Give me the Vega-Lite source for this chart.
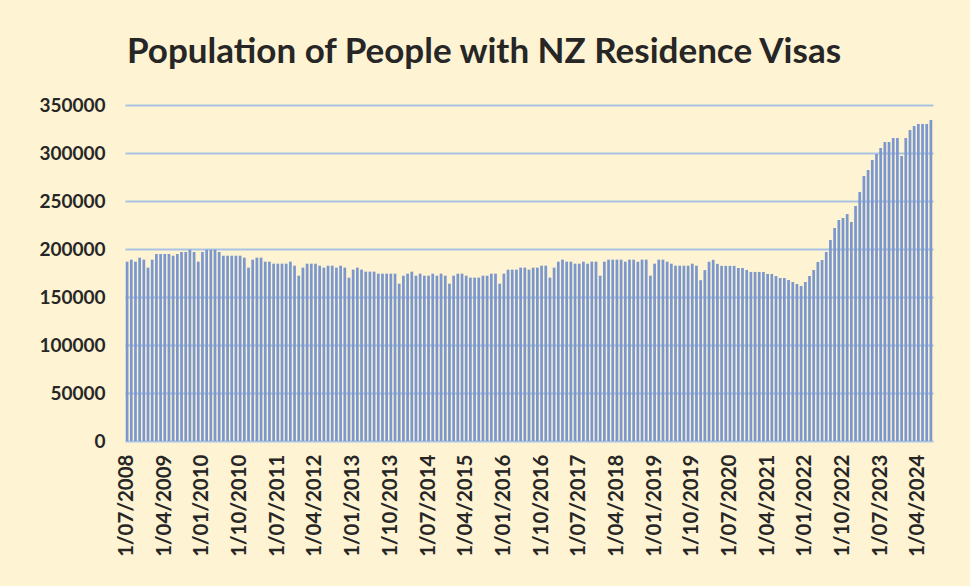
{
  "$schema": "https://vega.github.io/schema/vega-lite/v6.json",
  "width": 808,
  "height": 336,
  "autosize": {"type": "none"},
  "padding": {"left": 125, "top": 105, "right": 37, "bottom": 145},
  "background": "#FEF3D2",
  "title": {
    "text": "Population of People with NZ Residence Visas",
    "font": "Lato",
    "fontSize": 35,
    "fontWeight": "bold",
    "color": "#262626",
    "anchor": "middle",
    "offset": 26,
    "dx": -45
  },
  "data": {
    "values": [
      {"d":"1/07/2008","v":186800},{"d":"1/08/2008","v":188900},{"d":"1/09/2008","v":186800},{"d":"1/10/2008","v":191000},{"d":"1/11/2008","v":188900},{"d":"1/12/2008","v":180600},
      {"d":"1/01/2009","v":188900},{"d":"1/02/2009","v":194800},{"d":"1/03/2009","v":194800},{"d":"1/04/2009","v":194800},{"d":"1/05/2009","v":194800},{"d":"1/06/2009","v":193000},{"d":"1/07/2009","v":194800},{"d":"1/08/2009","v":196900},{"d":"1/09/2009","v":196900},{"d":"1/10/2009","v":199300},{"d":"1/11/2009","v":196900},{"d":"1/12/2009","v":186800},
      {"d":"1/01/2010","v":196900},{"d":"1/02/2010","v":199300},{"d":"1/03/2010","v":199300},{"d":"1/04/2010","v":199300},{"d":"1/05/2010","v":196900},{"d":"1/06/2010","v":193000},{"d":"1/07/2010","v":193000},{"d":"1/08/2010","v":193000},{"d":"1/09/2010","v":193000},{"d":"1/10/2010","v":193000},{"d":"1/11/2010","v":191000},{"d":"1/12/2010","v":180600},
      {"d":"1/01/2011","v":188900},{"d":"1/02/2011","v":191000},{"d":"1/03/2011","v":191000},{"d":"1/04/2011","v":186800},{"d":"1/05/2011","v":186800},{"d":"1/06/2011","v":184700},{"d":"1/07/2011","v":184700},{"d":"1/08/2011","v":184700},{"d":"1/09/2011","v":184700},{"d":"1/10/2011","v":186800},{"d":"1/11/2011","v":182600},{"d":"1/12/2011","v":172200},
      {"d":"1/01/2012","v":180600},{"d":"1/02/2012","v":184700},{"d":"1/03/2012","v":184700},{"d":"1/04/2012","v":184700},{"d":"1/05/2012","v":182600},{"d":"1/06/2012","v":180600},{"d":"1/07/2012","v":182600},{"d":"1/08/2012","v":182600},{"d":"1/09/2012","v":180600},{"d":"1/10/2012","v":182600},{"d":"1/11/2012","v":180600},{"d":"1/12/2012","v":170100},
      {"d":"1/01/2013","v":178500},{"d":"1/02/2013","v":180600},{"d":"1/03/2013","v":178500},{"d":"1/04/2013","v":176400},{"d":"1/05/2013","v":176400},{"d":"1/06/2013","v":176400},{"d":"1/07/2013","v":174300},{"d":"1/08/2013","v":174300},{"d":"1/09/2013","v":174300},{"d":"1/10/2013","v":174300},{"d":"1/11/2013","v":174300},{"d":"1/12/2013","v":163900},
      {"d":"1/01/2014","v":172200},{"d":"1/02/2014","v":174300},{"d":"1/03/2014","v":176400},{"d":"1/04/2014","v":172200},{"d":"1/05/2014","v":174300},{"d":"1/06/2014","v":172200},{"d":"1/07/2014","v":172200},{"d":"1/08/2014","v":174300},{"d":"1/09/2014","v":172200},{"d":"1/10/2014","v":174300},{"d":"1/11/2014","v":172200},{"d":"1/12/2014","v":163900},
      {"d":"1/01/2015","v":172200},{"d":"1/02/2015","v":174300},{"d":"1/03/2015","v":174300},{"d":"1/04/2015","v":172200},{"d":"1/05/2015","v":170200},{"d":"1/06/2015","v":170200},{"d":"1/07/2015","v":170200},{"d":"1/08/2015","v":172200},{"d":"1/09/2015","v":172200},{"d":"1/10/2015","v":174300},{"d":"1/11/2015","v":174300},{"d":"1/12/2015","v":163900},
      {"d":"1/01/2016","v":174300},{"d":"1/02/2016","v":178500},{"d":"1/03/2016","v":178500},{"d":"1/04/2016","v":178500},{"d":"1/05/2016","v":180600},{"d":"1/06/2016","v":180600},{"d":"1/07/2016","v":178500},{"d":"1/08/2016","v":180600},{"d":"1/09/2016","v":180600},{"d":"1/10/2016","v":182600},{"d":"1/11/2016","v":182600},{"d":"1/12/2016","v":170200},
      {"d":"1/01/2017","v":180600},{"d":"1/02/2017","v":186800},{"d":"1/03/2017","v":188900},{"d":"1/04/2017","v":186800},{"d":"1/05/2017","v":186800},{"d":"1/06/2017","v":184700},{"d":"1/07/2017","v":184700},{"d":"1/08/2017","v":186800},{"d":"1/09/2017","v":184700},{"d":"1/10/2017","v":186800},{"d":"1/11/2017","v":186800},{"d":"1/12/2017","v":172200},
      {"d":"1/01/2018","v":186800},{"d":"1/02/2018","v":188900},{"d":"1/03/2018","v":188900},{"d":"1/04/2018","v":188900},{"d":"1/05/2018","v":188900},{"d":"1/06/2018","v":186800},{"d":"1/07/2018","v":188900},{"d":"1/08/2018","v":188900},{"d":"1/09/2018","v":186800},{"d":"1/10/2018","v":188900},{"d":"1/11/2018","v":188900},{"d":"1/12/2018","v":172200},
      {"d":"1/01/2019","v":184700},{"d":"1/02/2019","v":188900},{"d":"1/03/2019","v":188900},{"d":"1/04/2019","v":186800},{"d":"1/05/2019","v":184700},{"d":"1/06/2019","v":182600},{"d":"1/07/2019","v":182600},{"d":"1/08/2019","v":182600},{"d":"1/09/2019","v":182600},{"d":"1/10/2019","v":184700},{"d":"1/11/2019","v":182600},{"d":"1/12/2019","v":167500},
      {"d":"1/01/2020","v":178000},{"d":"1/02/2020","v":186700},{"d":"1/03/2020","v":188700},{"d":"1/04/2020","v":184500},{"d":"1/05/2020","v":182400},{"d":"1/06/2020","v":182400},{"d":"1/07/2020","v":182400},{"d":"1/08/2020","v":182400},{"d":"1/09/2020","v":180200},{"d":"1/10/2020","v":180200},{"d":"1/11/2020","v":178100},{"d":"1/12/2020","v":176100},
      {"d":"1/01/2021","v":176100},{"d":"1/02/2021","v":176100},{"d":"1/03/2021","v":176100},{"d":"1/04/2021","v":174000},{"d":"1/05/2021","v":174000},{"d":"1/06/2021","v":171900},{"d":"1/07/2021","v":169800},{"d":"1/08/2021","v":169800},{"d":"1/09/2021","v":167700},{"d":"1/10/2021","v":165600},{"d":"1/11/2021","v":163600},{"d":"1/12/2021","v":161500},
      {"d":"1/01/2022","v":165600},{"d":"1/02/2022","v":171900},{"d":"1/03/2022","v":178100},{"d":"1/04/2022","v":186500},{"d":"1/05/2022","v":188500},{"d":"1/06/2022","v":196900},{"d":"1/07/2022","v":209400},{"d":"1/08/2022","v":221900},{"d":"1/09/2022","v":230200},{"d":"1/10/2022","v":232300},{"d":"1/11/2022","v":236400},{"d":"1/12/2022","v":228100},
      {"d":"1/01/2023","v":244800},{"d":"1/02/2023","v":259300},{"d":"1/03/2023","v":276000},{"d":"1/04/2023","v":282200},{"d":"1/05/2023","v":292600},{"d":"1/06/2023","v":298900},{"d":"1/07/2023","v":305100},{"d":"1/08/2023","v":311400},{"d":"1/09/2023","v":311400},{"d":"1/10/2023","v":315600},{"d":"1/11/2023","v":315600},{"d":"1/12/2023","v":296800},
      {"d":"1/01/2024","v":315600},{"d":"1/02/2024","v":323900},{"d":"1/03/2024","v":328000},{"d":"1/04/2024","v":330100},{"d":"1/05/2024","v":330100},{"d":"1/06/2024","v":330100},{"d":"1/07/2024","v":334300}
    ]
  },
  "mark": {"type": "bar", "color": "#7A97CE"},
  "encoding": {
    "x": {
      "field": "d",
      "type": "ordinal",
      "sort": null,
      "scale": {"paddingInner": 0.35, "paddingOuter": 0.175},
      "axis": {
        "title": null,
        "values": ["1/07/2008","1/04/2009","1/01/2010","1/10/2010","1/07/2011","1/04/2012","1/01/2013","1/10/2013","1/07/2014","1/04/2015","1/01/2016","1/10/2016","1/07/2017","1/04/2018","1/01/2019","1/10/2019","1/07/2020","1/04/2021","1/01/2022","1/10/2022","1/07/2023","1/04/2024"],
        "labelAngle": -90,
        "labelFont": "Lato",
        "labelFontSize": 20.5,
        "labelFontWeight": "bold",
        "labelColor": "#262626",
        "labelPadding": 13,
        "labelOverlap": false,
        "domain": false,
        "ticks": false,
        "grid": false
      }
    },
    "y": {
      "field": "v",
      "type": "quantitative",
      "scale": {"domain": [0, 350000], "nice": false},
      "axis": {
        "title": null,
        "values": [0, 50000, 100000, 150000, 200000, 250000, 300000, 350000],
        "format": "d",
        "labelFont": "Lato",
        "labelFontSize": 19,
        "labelFontWeight": "bold",
        "labelColor": "#262626",
        "labelPadding": 20,
        "domain": false,
        "ticks": false,
        "grid": true,
        "gridColor": "#A9C4E3",
        "gridWidth": 2
      }
    }
  },
  "config": {
    "view": {"stroke": null},
    "axis": {"gridOpacity": 1}
  }
}
